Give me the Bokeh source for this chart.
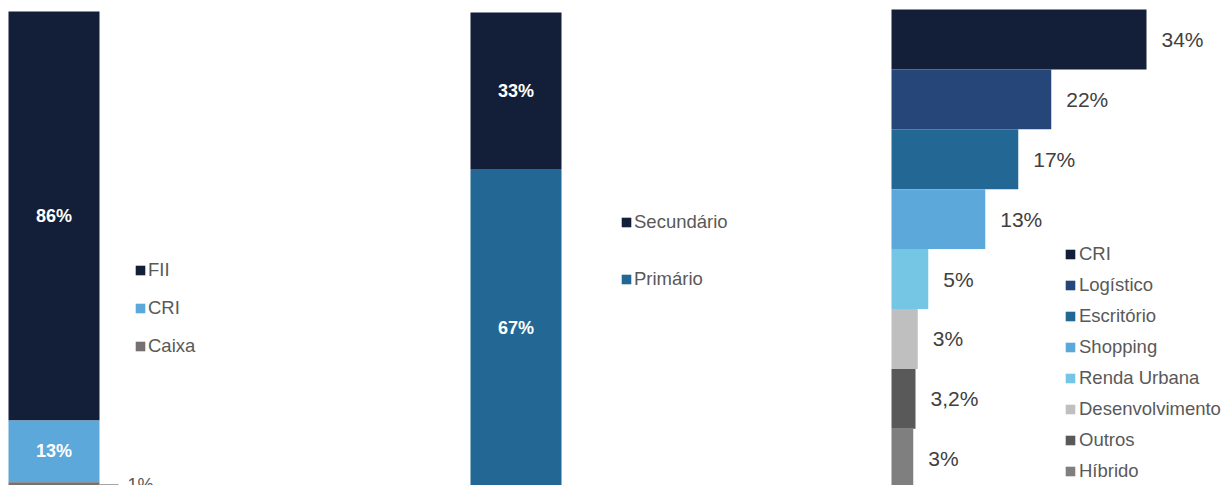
from bokeh.plotting import figure
from bokeh.layouts import row
from bokeh.models import Range1d, ColumnDataSource, Legend, LegendItem
from bokeh.core.properties import value
from bokeh.embed import file_html
from bokeh.resources import INLINE

# ---------------- data ----------------
# Panel 1: allocation by asset type (top to bottom of the stack)
fund_cats = ["FII", "CRI", "Caixa"]
fund_vals = [86, 13, 1]
fund_labels = ["86%", "13%", "1%"]
fund_colors = ["#131F38", "#5DA8DA", "#767171"]

# Panel 2: market (top to bottom of the stack)
mkt_cats = ["Secundário", "Primário"]
mkt_vals = [33, 67]
mkt_labels = ["33%", "67%"]
mkt_colors = ["#131F38", "#236894"]

# Panel 3: segments
seg_cats = ["CRI", "Logístico", "Escritório", "Shopping", "Renda Urbana",
            "Desenvolvimento", "Outros", "Híbrido"]
seg_vals = [34, 21.3, 16.9, 12.5, 4.9, 3.5, 3.2, 2.9]
seg_labels = ["34%", "22%", "17%", "13%", "5%", "3%", "3,2%", "3%"]
seg_colors = ["#131F38", "#26467A", "#236894", "#5DA8DA", "#75C6E4",
              "#BFBFBF", "#595959", "#7F7F7F"]

FONT = "Liberation Sans"
H = 485


def stack(vals):
    """vals listed top-to-bottom; returns bottoms, tops, mids."""
    n = len(vals)
    bottoms, tops = [0.0] * n, [0.0] * n
    acc = 0.0
    for i in range(n - 1, -1, -1):
        bottoms[i] = acc
        acc += vals[i]
        tops[i] = acc
    mids = [(b + t) / 2 for b, t in zip(bottoms, tops)]
    return bottoms, tops, mids


def base_fig(width, xr, yr):
    p = figure(width=width, height=H, output_backend="svg", toolbar_location=None,
               x_range=xr, y_range=yr, min_border=0,
               x_axis_location=None, y_axis_location=None)
    p.grid.visible = False
    p.outline_line_color = None
    p.background_fill_color = "white"
    p.border_fill_color = "white"
    return p


def legend(p, items, x, y, spacing, standoff=2):
    lg = Legend(items=items, location=(x, y), orientation="vertical",
                glyph_width=12, glyph_height=12, label_standoff=standoff,
                label_height=20, spacing=spacing, padding=0, margin=0,
                label_text_font=FONT, label_text_font_size="18.5px",
                label_text_color="#595959", border_line_color=None,
                background_fill_alpha=0)
    p.add_layout(lg, "center")
    return lg


def stacked_panel(width, bar_px_left, bar_px_w, top_px, px_per_pct,
                  cats, vals, labels, colors, leg_x, leg_y, leg_spacing):
    ppu = bar_px_w
    x0 = -0.5 - bar_px_left / ppu
    xr = Range1d(x0, x0 + width / ppu)
    y1 = 100 + top_px / px_per_pct
    yr = Range1d(y1 - H / px_per_pct, y1)
    p = base_fig(width, xr, yr)
    b, t, m = stack(vals)
    src = ColumnDataSource(dict(x=[0] * len(vals), bottom=b, top=t, mid=m,
                                color=colors, label=labels, cat=cats))
    r = p.vbar(x="x", bottom="bottom", top="top", width=1, fill_color="color",
               line_color=None, source=src)
    inside = [i for i, v in enumerate(vals) if v >= 5]
    outside = [i for i, v in enumerate(vals) if v < 5]
    p.text(x=[0] * len(inside), y=[m[i] for i in inside],
           text=[labels[i] for i in inside], text_align="center",
           text_baseline="middle", text_color="white",
           text_font=value(FONT), text_font_size="18px", text_font_style="bold")
    if outside:
        p.segment(x0=[0.5] * len(outside), y0=[m[i] for i in outside],
                  x1=[0.5 + 19 / ppu] * len(outside), y1=[m[i] for i in outside],
                  line_color="#A6A6A6", line_width=1.5)
        p.text(x=[0.5 + 28 / ppu] * len(outside), y=[m[i] for i in outside],
               text=[labels[i] for i in outside], text_align="left",
               text_baseline="middle", text_color="#595959",
               text_font=value(FONT), text_font_size="18px")
    items = [LegendItem(label=c, renderers=[r], index=i) for i, c in enumerate(cats)]
    legend(p, items, leg_x, leg_y, leg_spacing)
    return p


p1 = stacked_panel(440, 8, 91, 11, 4.756, fund_cats, fund_vals, fund_labels,
                   fund_colors, 134, 128, 16)
p2 = stacked_panel(440, 30, 91, 12, 4.74, mkt_cats, mkt_vals, mkt_labels,
                   mkt_colors, 180, 195, 35)

# Panel 3: horizontal bars
W3 = 341
ppx = 7.5
x0 = -11 / ppx
band = 59.9
n = len(seg_vals)
y_top = (n - 0.5) + 9 / band
p3 = base_fig(W3, Range1d(x0, x0 + W3 / ppx), Range1d(y_top - H / band, y_top))
ys = [n - 1 - i for i in range(n)]
src3 = ColumnDataSource(dict(y=ys, right=seg_vals, color=seg_colors,
                             label=seg_labels, cat=seg_cats))
r3 = p3.hbar(y="y", left=0, right="right", height=1, fill_color="color",
             line_color=None, source=src3)
p3.text(x="right", y="y", text="label", x_offset=15, text_align="left",
        text_baseline="middle", text_color="#404040", text_font=value(FONT),
        text_font_size="21px", source=src3)
items3 = [LegendItem(label=c, renderers=[r3], index=i) for i, c in enumerate(seg_cats)]
legend(p3, items3, 184, 3, 9, standoff=3)

layout = row(p1, p2, p3, spacing=0)
open("out.html", "w").write(file_html(layout, INLINE))
